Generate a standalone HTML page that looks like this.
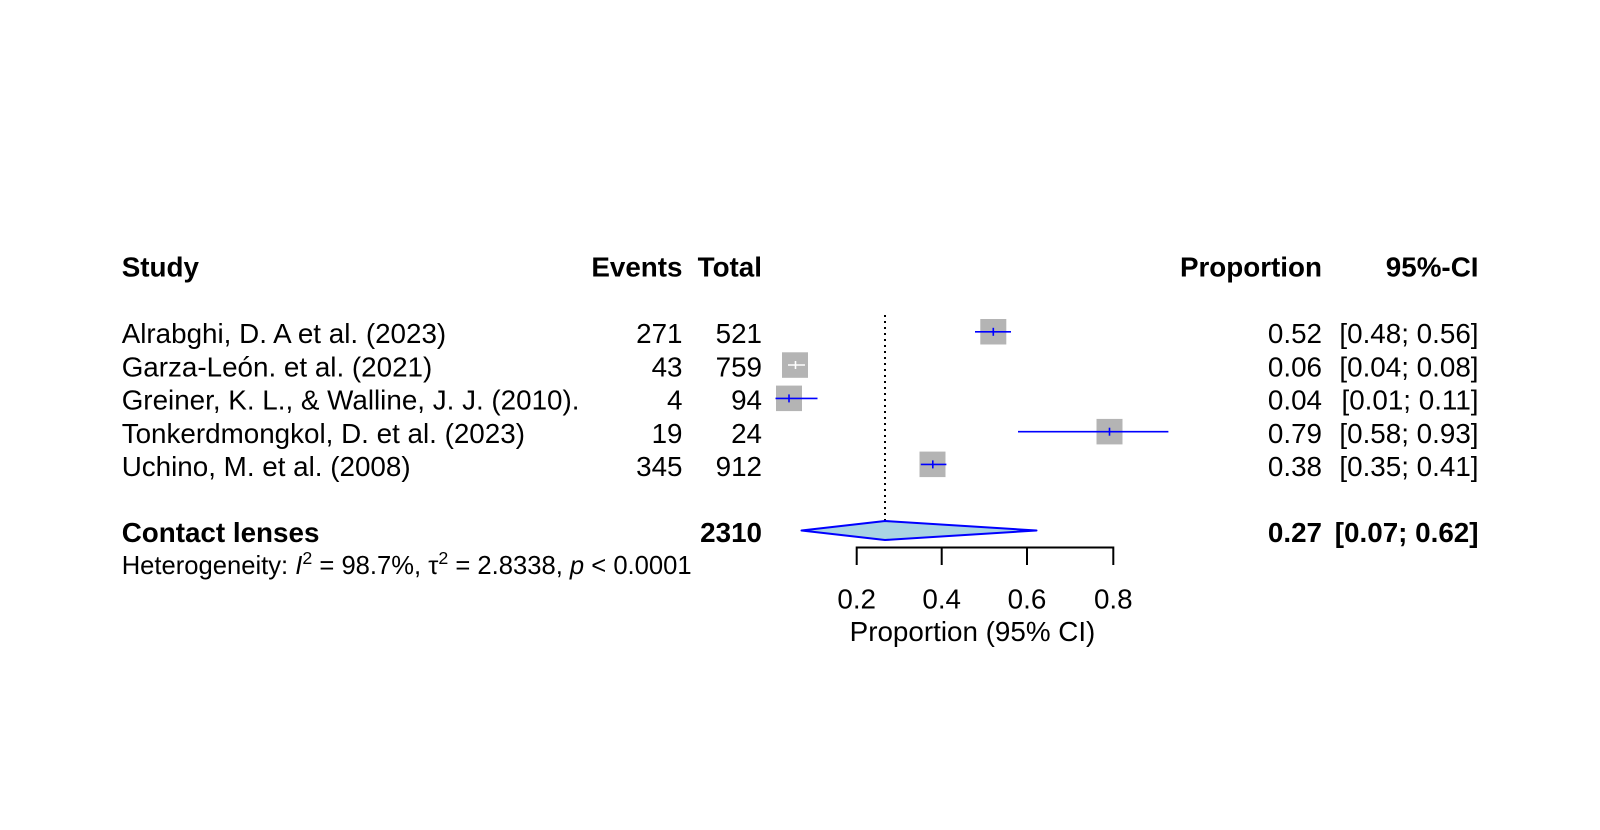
<!DOCTYPE html>
<html>
<head>
<meta charset="utf-8">
<style>
  html, body { margin: 0; padding: 0; background: #ffffff; }
  svg { display: block; }
  text { font-family: "Liberation Sans", Arial, sans-serif; fill: #000; }
</style>
</head>
<body>
<svg width="1600" height="830" viewBox="0 0 1600 830" xmlns="http://www.w3.org/2000/svg">
  <rect x="0" y="0" width="1600" height="830" fill="#ffffff"/>

  <!-- Headers -->
  <g font-size="27.8" font-weight="bold">
    <text x="121.7" y="276.5">Study</text>
    <text x="682.5" y="276.5" text-anchor="end">Events</text>
    <text x="762" y="276.5" text-anchor="end">Total</text>
    <text x="1322" y="276.5" text-anchor="end">Proportion</text>
    <text x="1478.5" y="276.5" text-anchor="end">95%-CI</text>
  </g>

  <!-- Study rows -->
  <g font-size="27.8">
    <text x="121.7" y="343.2">Alrabghi, D. A et al. (2023)</text>
    <text x="121.7" y="376.4">Garza-León. et al. (2021)</text>
    <text x="121.7" y="409.6">Greiner, K. L., &amp; Walline, J. J. (2010).</text>
    <text x="121.7" y="442.8">Tonkerdmongkol, D. et al. (2023)</text>
    <text x="121.7" y="476">Uchino, M. et al. (2008)</text>

    <text x="682.5" y="343.2" text-anchor="end">271</text>
    <text x="682.5" y="376.4" text-anchor="end">43</text>
    <text x="682.5" y="409.6" text-anchor="end">4</text>
    <text x="682.5" y="442.8" text-anchor="end">19</text>
    <text x="682.5" y="476" text-anchor="end">345</text>

    <text x="762" y="343.2" text-anchor="end">521</text>
    <text x="762" y="376.4" text-anchor="end">759</text>
    <text x="762" y="409.6" text-anchor="end">94</text>
    <text x="762" y="442.8" text-anchor="end">24</text>
    <text x="762" y="476" text-anchor="end">912</text>

    <text x="1322" y="343.2" text-anchor="end">0.52</text>
    <text x="1322" y="376.4" text-anchor="end">0.06</text>
    <text x="1322" y="409.6" text-anchor="end">0.04</text>
    <text x="1322" y="442.8" text-anchor="end">0.79</text>
    <text x="1322" y="476" text-anchor="end">0.38</text>

    <text x="1478.5" y="343.2" text-anchor="end">[0.48; 0.56]</text>
    <text x="1478.5" y="376.4" text-anchor="end">[0.04; 0.08]</text>
    <text x="1478.5" y="409.6" text-anchor="end">[0.01; 0.11]</text>
    <text x="1478.5" y="442.8" text-anchor="end">[0.58; 0.93]</text>
    <text x="1478.5" y="476" text-anchor="end">[0.35; 0.41]</text>
  </g>

  <!-- Summary row -->
  <g font-size="27.8" font-weight="bold">
    <text x="121.7" y="542">Contact lenses</text>
    <text x="762" y="542" text-anchor="end">2310</text>
    <text x="1322" y="542" text-anchor="end">0.27</text>
    <text x="1478.5" y="542" text-anchor="end">[0.07; 0.62]</text>
  </g>

  <!-- Heterogeneity -->
  <text x="121.7" y="574" font-size="25.6">Heterogeneity: <tspan font-style="italic">I</tspan><tspan font-size="17.8" dy="-10">2</tspan><tspan dy="10"> = 98.7%, τ</tspan><tspan font-size="17.8" dy="-10">2</tspan><tspan dy="10"> = 2.8338, </tspan><tspan font-style="italic">p</tspan> &lt; 0.0001</text>

  <!-- Dotted reference line at pooled estimate -->
  <line x1="885" y1="315" x2="885" y2="521" stroke="#000" stroke-width="2" stroke-dasharray="2,4"/>

  <!-- Squares -->
  <g fill="#b4b4b4">
    <rect x="980.3" y="319" width="26" height="25.5"/>
    <rect x="782" y="352.3" width="26" height="25.5"/>
    <rect x="776" y="385.6" width="26" height="25.5"/>
    <rect x="1096.5" y="418.9" width="26" height="25.5"/>
    <rect x="919.5" y="451.6" width="26" height="25.5"/>
  </g>

  <!-- CI lines -->
  <g stroke="#0000ff" stroke-width="1.6">
    <line x1="975" y1="331.8" x2="1011" y2="331.8"/>
    <line x1="993.3" y1="327.8" x2="993.3" y2="335.8"/>

    <line x1="775.5" y1="398.4" x2="817.5" y2="398.4"/>
    <line x1="789" y1="394.4" x2="789" y2="402.4"/>

    <line x1="1018" y1="431.7" x2="1168.4" y2="431.7"/>
    <line x1="1109.5" y1="427.7" x2="1109.5" y2="435.7"/>

    <line x1="920.8" y1="464.4" x2="946.4" y2="464.4"/>
    <line x1="932.8" y1="460.4" x2="932.8" y2="468.4"/>
  </g>
  <g stroke="#ffffff" stroke-width="1.6">
    <line x1="788" y1="365" x2="805" y2="365"/>
    <line x1="795.5" y1="361" x2="795.5" y2="369"/>
  </g>

  <!-- Diamond -->
  <polygon points="801.5,530.5 885,521 1036.5,530.5 885,540" fill="#a9d4e4" stroke="#0000ff" stroke-width="2" stroke-linejoin="round"/>

  <!-- Axis -->
  <g stroke="#000" stroke-width="2" fill="none">
    <line x1="856.7" y1="547.5" x2="1113.3" y2="547.5"/>
    <line x1="856.7" y1="546.5" x2="856.7" y2="565"/>
    <line x1="941.7" y1="546.5" x2="941.7" y2="565"/>
    <line x1="1027" y1="546.5" x2="1027" y2="565"/>
    <line x1="1113.3" y1="546.5" x2="1113.3" y2="565"/>
  </g>
  <g font-size="27.8" text-anchor="middle">
    <text x="856.7" y="608.5">0.2</text>
    <text x="941.7" y="608.5">0.4</text>
    <text x="1027" y="608.5">0.6</text>
    <text x="1113.3" y="608.5">0.8</text>
    <text x="972.5" y="641">Proportion (95% CI)</text>
  </g>
</svg>
</body>
</html>
